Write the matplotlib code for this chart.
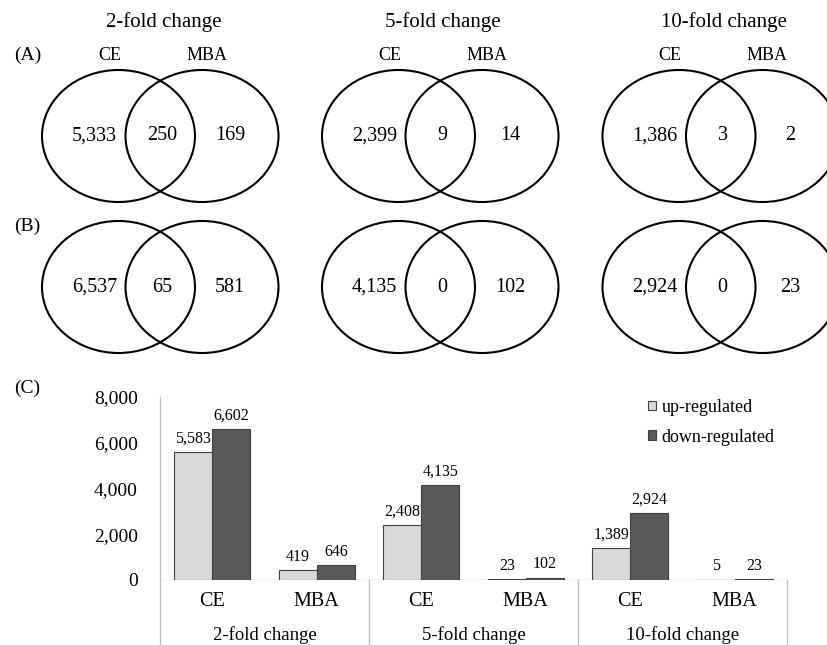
import matplotlib
matplotlib.use("Agg")
import matplotlib.pyplot as plt
from matplotlib.patches import Ellipse
from matplotlib.lines import Line2D
from matplotlib.patches import Patch

plt.rcParams['font.family'] = ['Liberation Serif', 'DejaVu Serif']

# ---- data ----
fold_levels = ["2-fold change", "5-fold change", "10-fold change"]
set_names = ["CE", "MBA"]
# Venn counts: (CE only, shared, MBA only)
venn_up = [(5333, 250, 169), (2399, 9, 14), (1386, 3, 2)]
venn_down = [(6537, 65, 581), (4135, 0, 102), (2924, 0, 23)]
bar_categories = ["CE", "MBA", "CE", "MBA", "CE", "MBA"]
up_regulated = [5583, 419, 2408, 23, 1389, 5]
down_regulated = [6602, 646, 4135, 102, 2924, 23]
y_ticks = [0, 2000, 4000, 6000, 8000]

W, H = 827, 645
fig = plt.figure(figsize=(W / 100, H / 100), dpi=100)

# ---- Venn diagrams drawn in a pixel-space overlay ----
ov = fig.add_axes([0, 0, 1, 1])
ov.set_xlim(0, W)
ov.set_ylim(H, 0)
ov.axis("off")

col_left = [118.5, 398.5, 679]
sep = 83.5
ew, eh = 153, 132
row_cy = [136, 287]

def fmt(v):
    return f"{v:,}"

for i, fold in enumerate(fold_levels):
    cx0 = col_left[i]
    cx1 = cx0 + sep
    mid = (cx0 + cx1) / 2
    ov.text(mid + 3, 22, fold, ha="center", va="center", fontsize=15)
    ov.text(cx0 - 9, 55, set_names[0], ha="center", va="center", fontsize=13)
    ov.text(cx1 + 5, 55, set_names[1], ha="center", va="center", fontsize=13)
    for r, counts in enumerate([venn_up[i], venn_down[i]]):
        cy = row_cy[r]
        for cx in (cx0, cx1):
            ov.add_patch(Ellipse((cx, cy), ew, eh, fill=False, lw=1.5,
                                 ec="black", clip_on=False))
        a, b, c = counts
        ov.text(cx0 - 24, cy, fmt(a), ha="center", va="center", fontsize=14.5)
        ov.text(mid + 2, cy, fmt(b), ha="center", va="center", fontsize=14.5)
        ov.text(cx1 + 28, cy, fmt(c), ha="center", va="center", fontsize=14.5)

ov.text(14, 55, "(A)", ha="left", va="center", fontsize=14)
ov.text(14, 226, "(B)", ha="left", va="center", fontsize=14)
ov.text(14, 388, "(C)", ha="left", va="center", fontsize=14)

# ---- bar chart ----
ax_left, ax_right = 160, 787
ax_top, ax_bot = 397, 580
ax = fig.add_axes([ax_left / W, (H - ax_bot) / H,
                   (ax_right - ax_left) / W, (ax_bot - ax_top) / H])
n = len(bar_categories)
xs = list(range(n))
bw = 0.364
light, dark = "#d9d9d9", "#595959"
ax.bar([x - bw / 2 for x in xs], up_regulated, width=bw, color=light,
       edgecolor="#404040", linewidth=0.8, label="up-regulated", zorder=3)
ax.bar([x + bw / 2 for x in xs], down_regulated, width=bw, color=dark,
       edgecolor="#404040", linewidth=0.8, label="down-regulated", zorder=3)
for x, u, d in zip(xs, up_regulated, down_regulated):
    ax.annotate(fmt(u), (x - bw / 2, u), xytext=(0, 4), textcoords="offset points",
                ha="center", va="bottom", fontsize=11.5)
    ax.annotate(fmt(d), (x + bw / 2, d), xytext=(0, 4), textcoords="offset points",
                ha="center", va="bottom", fontsize=11.5)

ax.set_xlim(-0.5, n - 0.5)
ax.set_ylim(0, 8000)
ax.set_yticks(y_ticks)
ax.set_yticklabels([fmt(t) for t in y_ticks], fontsize=14)
ax.tick_params(axis="y", length=0, pad=16)
ax.set_xticks([])
for s in ["top", "right", "bottom", "left"]:
    ax.spines[s].set_visible(False)

grey = "#bfbfbf"
# baseline and category frame lines extending below the axes
ax.axhline(0, color=grey, lw=1.0, zorder=2)
trans = ax.get_xaxis_transform()
frame_bottom = -(H - ax_bot) / (ax_bot - ax_top)
for xb in [-0.5, 1.5, 3.5, n - 0.5]:
    y0 = 1.0 if xb == -0.5 else 0.0
    ax.add_line(Line2D([xb, xb], [frame_bottom, y0], transform=trans,
                       color=grey, lw=1.0, clip_on=False))
for x, cat in zip(xs, bar_categories):
    ax.text(x, -(602 - ax_bot) / (ax_bot - ax_top), cat, transform=trans,
            ha="center", va="center", fontsize=14.5)
for g, fold in enumerate(fold_levels):
    ax.text(2 * g + 0.5, -(635 - ax_bot) / (ax_bot - ax_top), fold, transform=trans,
            ha="center", va="center", fontsize=13.5)

handles = [Patch(facecolor=light, edgecolor="#404040", lw=0.8),
           Patch(facecolor=dark, edgecolor="#404040", lw=0.8)]
fig.legend(handles, ["up-regulated", "down-regulated"], loc="upper left",
           bbox_to_anchor=(639 / W, 1 - 390 / H), frameon=False, fontsize=13,
           handlelength=0.45, handleheight=0.45, handletextpad=0.3, labelspacing=0.7,
           borderpad=0)

fig.savefig("out.png", dpi=100, facecolor="white")
